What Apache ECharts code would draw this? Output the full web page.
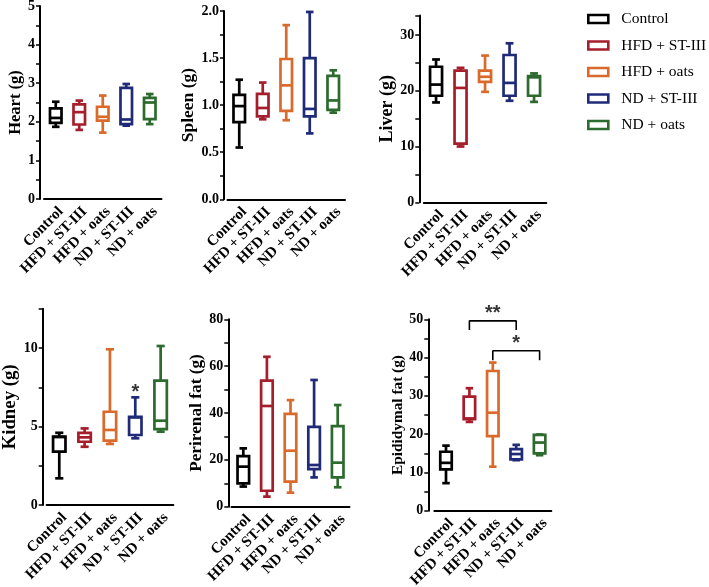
<!DOCTYPE html>
<html><head><meta charset="utf-8">
<script src="https://cdn.jsdelivr.net/npm/echarts@6/dist/echarts.min.js"></script>
<style>html,body{margin:0;padding:0;background:#fff}#c{width:709px;height:587px}</style>
</head><body><div id="c"></div>
<script>
// ---------- DATA ----------
const categories = ['Control', 'HFD + ST-III', 'HFD + oats', 'ND + ST-III', 'ND + oats'];
// each row: [min, Q1, median, Q3, max] in category order
const heartData = [[1.87, 1.97, 2.10, 2.35, 2.52], [1.79, 1.93, 2.25, 2.45, 2.55], [1.72, 2.03, 2.13, 2.39, 2.68], [1.90, 1.94, 2.06, 2.88, 2.98], [1.94, 2.07, 2.50, 2.62, 2.72]];
const spleenData = [[0.55, 0.82, 0.99, 1.11, 1.27], [0.85, 0.88, 0.97, 1.12, 1.24], [0.84, 0.94, 1.21, 1.49, 1.85], [0.70, 0.88, 0.96, 1.50, 1.99], [0.92, 0.95, 1.05, 1.31, 1.37]];
const liverData = [[17.9, 19.1, 21.1, 24.3, 25.6], [10.0, 10.5, 20.5, 23.6, 24.1], [19.8, 21.6, 22.5, 23.6, 26.3], [18.2, 19.1, 21.4, 26.4, 28.5], [18.0, 19.1, 22.4, 22.6, 23.1]];
const kidneyData = [[1.70, 3.40, 4.33, 4.35, 4.60], [3.71, 4.03, 4.31, 4.60, 4.88], [3.89, 4.10, 4.78, 5.94, 9.92], [4.25, 4.46, 5.58, 5.62, 6.86], [4.67, 4.84, 5.37, 7.92, 10.13]];
const perirenalData = [[8.6, 10.0, 17.1, 21.6, 24.9], [4.3, 6.8, 43.0, 53.8, 64.0], [6.0, 10.7, 23.9, 39.6, 45.5], [12.5, 16.0, 17.8, 34.1, 54.1], [8.3, 12.5, 18.8, 34.4, 43.4]];
const epididymalData = [[7.2, 10.8, 12.5, 15.4, 17.0], [23.2, 23.9, 24.1, 29.8, 32.0], [11.5, 19.5, 25.6, 36.5, 38.7], [13.2, 13.4, 14.8, 16.1, 17.2], [14.5, 15.0, 17.8, 19.8, 19.9]];
const panelNames = ['Heart (g)', 'Spleen (g)', 'Liver (g)', 'Kidney (g)', 'Perirenal fat (g)', 'Epididymal fat (g)'];
// y axis: [max, tick step, label step]
const heartAxis = [5, 0.5, 1];
const spleenAxis = [2, 0.25, 0.5];
const liverAxis = [33.5, 5, 10];
const kidneyAxis = [12.5, 2.5, 5];
const perirenalAxis = [80, 10, 20];
const epididymalAxis = [50, 5, 10];
// significance marks
const kidneyStars = [['ND + ST-III', 6.86, '*']];
const epiBrackets = [
  { from: 'HFD + ST-III', to: 'ND + ST-III', mid: 'HFD + oats', top: 49.6, leg: 47.2, label: '**' },
  { from: 'HFD + oats', to: 'ND + oats', mid: 'ND + ST-III', top: 41.8, leg: 39.3, label: '*' }
];

// ---------- STYLE / LAYOUT ----------
const groupColors = ['#000000', '#A61E2C', '#DA6A2B', '#1F2B78', '#2C6A2E'];
const serif = 'Liberation Serif';
const panels = [
  { data: heartData, axis: heartAxis, grid: { left: 44, top: 6, width: 117.5, height: 193 }, offset: 4, nameGap: 13, nameSize: 16.5, dec: 0 },
  { data: spleenData, axis: spleenAxis, grid: { left: 227.5, top: 11, width: 117.5, height: 188.3 }, offset: 3.5, nameGap: 25, nameSize: 17.5, dec: 1 },
  { data: liverData, axis: liverAxis, grid: { left: 423.8, top: 15.4, width: 122.5, height: 186.9 }, offset: 4.5, nameGap: 22.5, nameSize: 18, dec: 0 },
  { data: kidneyData, axis: kidneyAxis, grid: { left: 46.6, top: 308.8, width: 126.7, height: 196.2 }, offset: 3.9, nameGap: 23, nameSize: 18.8, dec: 0 },
  { data: perirenalData, axis: perirenalAxis, grid: { left: 231.5, top: 319.3, width: 118, height: 187.4 }, offset: 3.2, nameGap: 23.5, nameSize: 17.3, dec: 0 },
  { data: epididymalData, axis: epididymalAxis, grid: { left: 434.3, top: 319.3, width: 117, height: 191.4 }, offset: 6, nameGap: 21, nameSize: 15.3, dec: 0 }
];

function renderBox(params, api) {
  const x = api.value(0);
  const pMin = api.coord([x, api.value(1)]);
  const pQ1 = api.coord([x, api.value(2)]);
  const pMed = api.coord([x, api.value(3)]);
  const pQ3 = api.coord([x, api.value(4)]);
  const pMax = api.coord([x, api.value(5)]);
  const bw = api.size([1, 0])[0];
  const hw = bw * 0.245, cw = bw * 0.16;
  const cx = pMin[0];
  const color = api.visual('color');
  const st = { stroke: color, lineWidth: 2.7, fill: null };
  return {
    type: 'group', children: [
      { type: 'line', shape: { x1: cx, y1: pMax[1], x2: cx, y2: pQ3[1] }, style: st },
      { type: 'line', shape: { x1: cx, y1: pQ1[1], x2: cx, y2: pMin[1] }, style: st },
      { type: 'line', shape: { x1: cx - cw, y1: pMax[1], x2: cx + cw, y2: pMax[1] }, style: st },
      { type: 'line', shape: { x1: cx - cw, y1: pMin[1], x2: cx + cw, y2: pMin[1] }, style: st },
      { type: 'rect', shape: { x: cx - hw, y: pQ3[1], width: 2 * hw, height: pQ1[1] - pQ3[1] }, style: { stroke: color, lineWidth: 2.7, fill: '#fff' } },
      { type: 'line', shape: { x1: cx - hw, y1: pMed[1], x2: cx + hw, y2: pMed[1] }, style: st }
    ]
  };
}

const grids = [], xAxes = [], yAxes = [], series = [];
panels.forEach((p, i) => {
  grids.push(Object.assign({ containLabel: false, outerBoundsMode: 'none' }, p.grid));
  xAxes.push({
    type: 'category', gridIndex: i, data: categories,
    axisLine: { lineStyle: { color: '#000', width: 2 } },
    axisTick: { alignWithLabel: true, length: 4, lineStyle: { color: '#000', width: 1.5 } },
    axisLabel: { rotate: 45, interval: 0, margin: 5, verticalAlign: 'top', color: '#000', fontFamily: serif, fontWeight: 'bold', fontSize: 15 },
    splitLine: { show: false }
  });
  const [ymax, step, lstep] = p.axis;
  yAxes.push({
    type: 'value', gridIndex: i, min: 0, max: ymax, interval: step, offset: p.offset,
    axisLine: { show: true, lineStyle: { color: '#000', width: 2 } },
    axisTick: { show: true, length: 4, lineStyle: { color: '#000', width: 1.5 } },
    splitLine: { show: false },
    axisLabel: {
      margin: 5, color: '#000', fontFamily: serif, fontWeight: 'bold', fontSize: 14,
      formatter: v => (Math.abs(v / lstep - Math.round(v / lstep)) < 1e-6 ? v.toFixed(p.dec) : '')
    },
    name: panelNames[i], nameLocation: 'middle', nameGap: p.nameGap,
    nameTextStyle: { color: '#000', fontFamily: serif, fontWeight: 'bold', fontSize: p.nameSize }
  });
  categories.forEach((c, k) => {
    const d = p.data[k];
    series.push({
      type: 'custom', name: c, xAxisIndex: i, yAxisIndex: i,
      itemStyle: { color: groupColors[k] },
      encode: { x: 0, y: [1, 2, 3, 4, 5] },
      data: [[k, d[0], d[1], d[2], d[3], d[4]]],
      renderItem: renderBox, silent: true
    });
  });
});

const starLabel = { show: true, position: 'top', distance: -3, color: '#000', fontFamily: 'Liberation Sans', fontWeight: 'bold', fontSize: 20 };
// kidney star
series.push({
  type: 'scatter', xAxisIndex: 3, yAxisIndex: 3, symbolSize: 1, itemStyle: { color: 'rgba(0,0,0,0)' }, clip: false, silent: true,
  data: kidneyStars.map(s => ({ value: [s[0], s[1]], label: Object.assign({}, starLabel, { formatter: s[2], distance: -6 }) }))
});
epiBrackets.forEach(b => {
  series.push({
    type: 'line', xAxisIndex: 5, yAxisIndex: 5, symbol: 'none', silent: true, clip: false,
    lineStyle: { color: '#000', width: 1.6 },
    data: [[b.from, b.leg], [b.from, b.top], [b.to, b.top], [b.to, b.leg]]
  });
  series.push({
    type: 'scatter', xAxisIndex: 5, yAxisIndex: 5, symbolSize: 1, itemStyle: { color: 'rgba(0,0,0,0)' }, clip: false, silent: true,
    data: [{ value: [b.mid, b.top], label: Object.assign({}, starLabel, { formatter: b.label }) }]
  });
});

const chart = echarts.init(document.getElementById('c'), null, { renderer: 'canvas' });
chart.setOption({
  animation: false,
  backgroundColor: '#fff',
  grid: grids, xAxis: xAxes, yAxis: yAxes,
  legend: {
    orient: 'vertical', left: 587, top: 11, padding: 0,
    itemWidth: 20, itemHeight: 8, itemGap: 10.5, selectedMode: false, icon: 'rect',
    textStyle: { color: '#000', fontFamily: serif, fontSize: 15.5, padding: [0, 0, 0, 8] },
    data: categories.map((c, k) => ({ name: c, icon: 'rect', itemStyle: { color: '#fff', borderColor: groupColors[k], borderWidth: 2.6 } }))
  },
  series: series
});
</script></body></html>
